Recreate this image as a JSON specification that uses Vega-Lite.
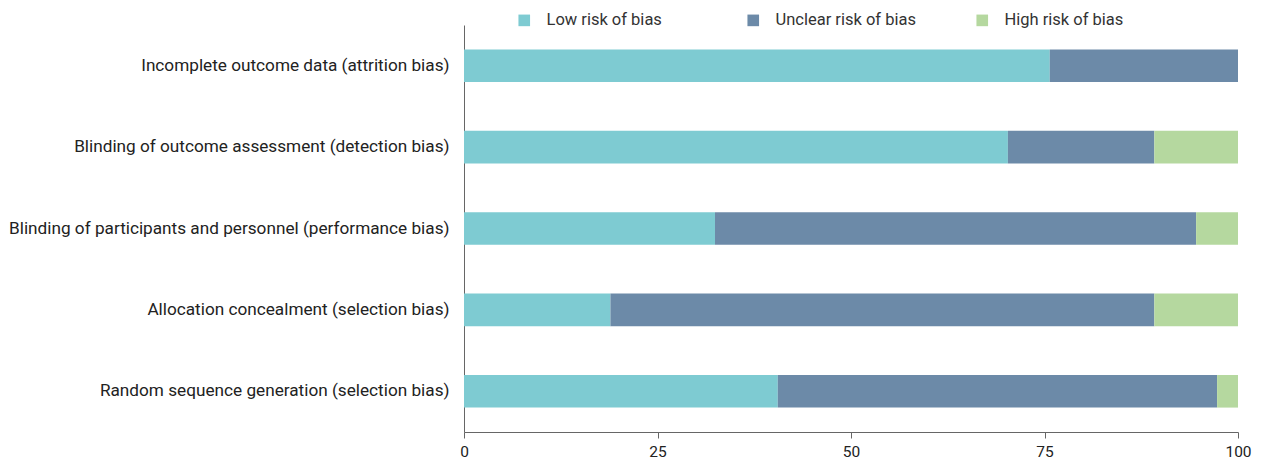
{
  "$schema": "https://vega.github.io/schema/vega-lite/v6.json",
  "autosize": {"type": "none"},
  "padding": {"left": 464, "top": 25, "right": 25, "bottom": 33},
  "width": 774,
  "height": 407,
  "background": "white",
  "config": {
    "view": {"stroke": null},
    "font": "Roboto",
    "axis": {"grid": false, "domainColor": "#888888", "tickColor": "#888888", "labelColor": "#222222", "labelFont": "Roboto"}
  },
  "data": {
    "values": [
      {"domain": "Incomplete outcome data (attrition bias)", "risk": "Low risk of bias", "ord": 1, "pct": 75.68},
      {"domain": "Incomplete outcome data (attrition bias)", "risk": "Unclear risk of bias", "ord": 2, "pct": 24.32},
      {"domain": "Incomplete outcome data (attrition bias)", "risk": "High risk of bias", "ord": 3, "pct": 0},
      {"domain": "Blinding of outcome assessment (detection bias)", "risk": "Low risk of bias", "ord": 1, "pct": 70.27},
      {"domain": "Blinding of outcome assessment (detection bias)", "risk": "Unclear risk of bias", "ord": 2, "pct": 18.92},
      {"domain": "Blinding of outcome assessment (detection bias)", "risk": "High risk of bias", "ord": 3, "pct": 10.81},
      {"domain": "Blinding of participants and personnel (performance bias)", "risk": "Low risk of bias", "ord": 1, "pct": 32.43},
      {"domain": "Blinding of participants and personnel (performance bias)", "risk": "Unclear risk of bias", "ord": 2, "pct": 62.16},
      {"domain": "Blinding of participants and personnel (performance bias)", "risk": "High risk of bias", "ord": 3, "pct": 5.41},
      {"domain": "Allocation concealment (selection bias)", "risk": "Low risk of bias", "ord": 1, "pct": 18.92},
      {"domain": "Allocation concealment (selection bias)", "risk": "Unclear risk of bias", "ord": 2, "pct": 70.27},
      {"domain": "Allocation concealment (selection bias)", "risk": "High risk of bias", "ord": 3, "pct": 10.81},
      {"domain": "Random sequence generation (selection bias)", "risk": "Low risk of bias", "ord": 1, "pct": 40.54},
      {"domain": "Random sequence generation (selection bias)", "risk": "Unclear risk of bias", "ord": 2, "pct": 56.76},
      {"domain": "Random sequence generation (selection bias)", "risk": "High risk of bias", "ord": 3, "pct": 2.70}
    ]
  },
  "mark": {"type": "bar"},
  "encoding": {
    "y": {
      "field": "domain",
      "type": "nominal",
      "sort": null,
      "scale": {"paddingInner": 0.6, "paddingOuter": 0.3},
      "axis": {"title": null, "ticks": false, "labelFontSize": 17.2, "labelPadding": 15, "labelLimit": 600, "domainColor": "#666666"}
    },
    "x": {
      "field": "pct",
      "type": "quantitative",
      "stack": "zero",
      "scale": {"domain": [0, 100], "nice": false},
      "axis": {"title": null, "values": [0, 25, 50, 75, 100], "labelFontSize": 15.5, "labelFlush": false, "tickSize": 6, "labelPadding": 6, "domainColor": "#666666", "tickColor": "#666666"}
    },
    "color": {
      "field": "risk",
      "type": "nominal",
      "scale": {
        "domain": ["Low risk of bias", "Unclear risk of bias", "High risk of bias"],
        "range": ["#7ecbd2", "#6c8aa8", "#b5d89f"]
      },
      "legend": {
        "title": null,
        "orient": "none",
        "direction": "horizontal",
        "columns": 3,
        "gridAlign": "all",
        "columnPadding": 58,
        "legendX": 52,
        "legendY": -13,
        "symbolType": "square",
        "symbolSize": 135,
        "symbolStrokeWidth": 0,
        "symbolOpacity": 1,
        "labelFontSize": 16.5,
        "labelOffset": 14,
        "labelColor": "#333333",
        "labelFont": "Roboto"
      }
    },
    "order": {"field": "ord", "type": "quantitative"}
  }
}
